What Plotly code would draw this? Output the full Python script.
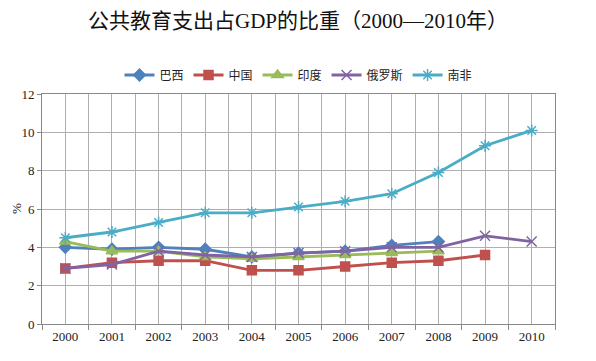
import plotly.graph_objects as go

years = ["2000", "2001", "2002", "2003", "2004", "2005", "2006", "2007", "2008", "2009", "2010"]
brazil = [4.0, 3.9, 4.0, 3.9, 3.5, 3.7, 3.8, 4.1, 4.3, None, None]
china = [2.9, 3.2, 3.3, 3.3, 2.8, 2.8, 3.0, 3.2, 3.3, 3.6, None]
india = [4.3, 3.8, 3.8, 3.5, 3.4, 3.5, 3.6, 3.7, 3.8, None, None]
russia = [2.9, 3.1, 3.8, 3.6, 3.5, 3.7, 3.8, 4.0, 4.0, 4.6, 4.3]
south_africa = [4.5, 4.8, 5.3, 5.8, 5.8, 6.1, 6.4, 6.8, 7.9, 9.3, 10.1]

series = [
    ("巴西", brazil, "#4F81BD", "diamond", 9),
    ("中国", china, "#C0504D", "square", 9),
    ("印度", india, "#9BBB59", "triangle-up", 10),
    ("俄罗斯", russia, "#8064A2", "x-thin-open", 10),
    ("南非", south_africa, "#4BACC6", "asterisk-open", 10),
]

xpos = list(range(len(years)))
fig = go.Figure()
for name, vals, color, sym, size in series:
    fig.add_trace(go.Scatter(
        x=xpos, y=vals, name=name, mode="lines+markers",
        line=dict(color=color, width=2.8),
        marker=dict(symbol=sym, size=size, color=color,
                    line=dict(color=color, width=1.5)),
    ))

font_family = "Liberation Serif, Noto Sans CJK SC, serif"
# page body has an 8px margin: figure coordinates = page coordinates - 8
W, H = 580, 345
ml, mr, mt, mb = 34, 33, 86, 29
pw = W - ml - mr

fig.update_layout(
    width=W, height=H,
    margin=dict(l=ml, r=mr, t=mt, b=mb, autoexpand=False),
    paper_bgcolor="white", plot_bgcolor="white",
    font=dict(family=font_family, size=13, color="#222"),
    title=dict(text="公共教育支出占GDP的比重（2000—2010年）", x=0.5, xanchor="center",
               y=1 - 13 / H, yanchor="middle",
               font=dict(size=21, family=font_family, color="#111")),
    legend=dict(orientation="h", x=0.5, xanchor="center", y=1 + 19 / (H - mt - mb),
                yanchor="middle", font=dict(size=12, family=font_family),
                itemwidth=30, tracegroupgap=0),
    showlegend=True,
)
fig.update_xaxes(
    range=[-0.5, 10.5], tickmode="array", tickvals=xpos, ticktext=years,
    showgrid=True, gridcolor="#AFAFAF", gridwidth=1, ticks="",
    showline=True, linecolor="#888", linewidth=1, mirror=True,
    tickfont=dict(size=13, family=font_family), automargin=False,
    minor=dict(tickmode="linear", tick0=-0.5, dtick=1, showgrid=True,
               gridcolor="#AFAFAF", gridwidth=1, ticks="outside", ticklen=5,
               tickcolor="#888"),
    zeroline=False,
)
fig.update_yaxes(
    range=[0, 12], dtick=2, showgrid=True, gridcolor="#AFAFAF", gridwidth=1,
    showline=True, linecolor="#888", linewidth=1, mirror=True,
    ticks="outside", ticklen=4, tickcolor="#888", automargin=False,
    tickfont=dict(size=13, family=font_family),
    zeroline=False,
)
fig.add_annotation(text="%", xref="paper", yref="paper", x=(8 - ml) / pw, y=0.5,
                   xanchor="center", yanchor="middle", textangle=-90, showarrow=False,
                   font=dict(size=13, family=font_family, color="#222"))

fig.write_html("out.html")
